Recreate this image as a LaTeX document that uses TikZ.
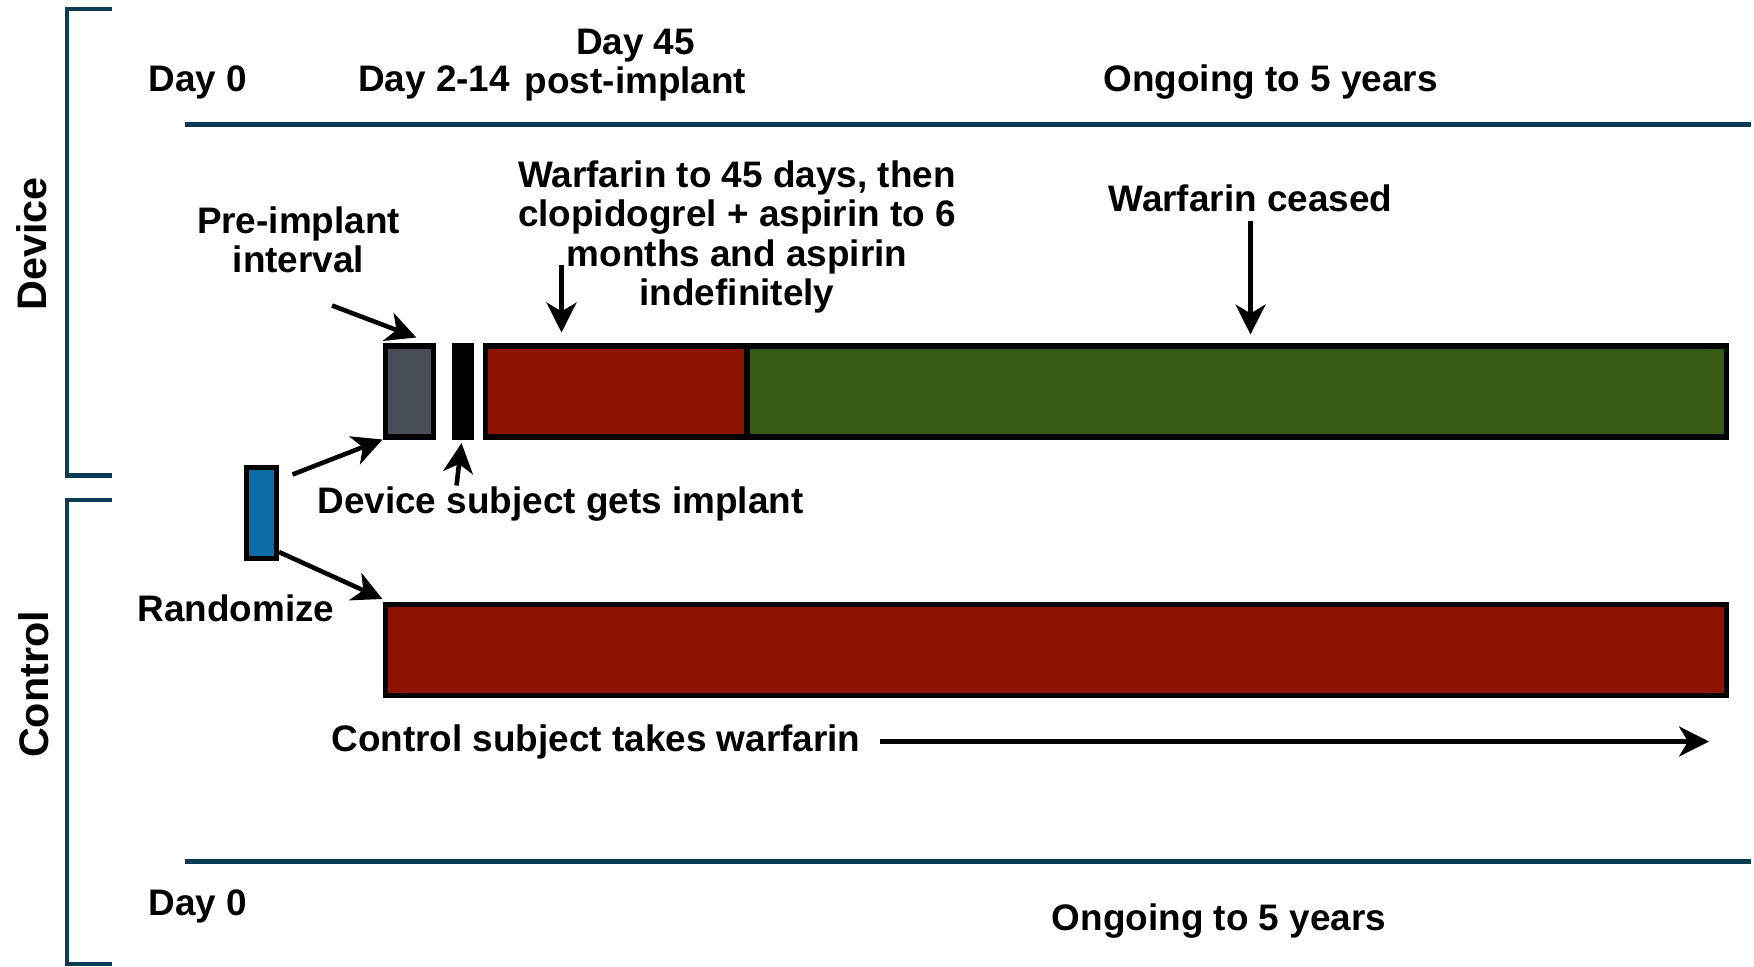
\documentclass[tikz,border=0pt]{standalone}
\usepackage{fontspec}
\setmainfont{Liberation Sans}
\usetikzlibrary{arrows.meta, positioning}
\definecolor{navy}{RGB}{10,60,85}
\definecolor{slate}{RGB}{71,78,85}
\definecolor{brick}{RGB}{140,20,0}
\definecolor{moss}{RGB}{54,90,19}
\definecolor{ocean}{RGB}{13,108,165}

\begin{document}
\begin{tikzpicture}[
        txt/.style={font=\fontsize{21}{22.3}\selectfont\bfseries, align=center, inner sep=0pt},
        side/.style={font=\fontsize{23.5}{26}\selectfont\bfseries, rotate=90, inner sep=0pt},
        bar/.style={draw=black, line width=3pt, inner sep=0pt, anchor=north west, minimum height=1.815cm},
        arr/.style={line width=2.6pt, -{Stealth[length=17pt, width=17pt, inset=5pt]}},
        rule/.style={navy, line width=2.8pt}
    ]
    \useasboundingbox (0,0) rectangle (35.08,19.33);

        % Brackets and time lines
        \foreach \t/\b in {19.15/9.82, 9.33/0.05}
            \draw[rule] (2.24,\t) -| (1.34,\b) -- (2.24,\b);
        \draw[rule] (3.69,16.84) -- (35.01,16.84);
        \draw[rule] (3.69,2.10) -- (35.01,2.10);

        \node[side] (dev) at (0.63,14.45) {Device};
        \node[side] (ctl) at (0.67,5.64) {Control};

        % Bars
        \node[bar, fill=slate, minimum width=0.965cm] (gray) at (7.65,12.46) {};
        \node[bar, fill=black, minimum width=0.335cm] (implbar) at (9.03,12.46) {};
        \node[bar, fill=brick, minimum width=5.24cm] (red) at (9.65,12.46) {};
        \node[bar, fill=moss, minimum width=19.59cm] (green) at (14.887,12.46) {};
        \node[bar, fill=ocean, minimum width=0.595cm] (randbox) at (4.88,10.03) {};
        \node[bar, fill=brick, minimum width=26.825cm] (ctrl) at (7.65,7.29) {};

        % Labels
        \node[txt] (day0) at (3.96,17.69) {Day 0};
        \node[txt] (day214) at (8.68,17.69) {Day 2-14};
        \node[txt] (day45) at (12.71,18.03) {Day 45\\post-implant};
        \node[txt] (ongoing) at (25.41,17.69) {Ongoing to 5 years};
        \node[txt] (pre) at (5.97,14.53) {Pre-implant\\interval};
        \node[txt] (warf) at (14.74,14.59) {Warfarin to 45 days, then\\clopidogrel + aspirin to 6\\months and aspirin\\indefinitely};
        \node[txt] (ceased) at (25.01,15.36) {Warfarin ceased};
        \node[txt] (randtxt) at (4.72,7.16) {Randomize};
        \node[txt] (implant) at (11.21,9.25) {Device subject gets implant};
        \node[txt] (ctrltxt) at (11.92,4.50) {Control subject takes warfarin};
        \node[txt] (day0b) at (3.96,1.20) {Day 0};
        \node[txt] (ongoingb) at (24.38,0.90) {Ongoing to 5 years};

        \coordinate (preTail) at (6.64,13.22);
        \coordinate (warfTail) at (11.23,14.03);
        \coordinate (implTail) at (9.13,9.62);
        \coordinate (ctrlEnd) at (34.18,4.54);

        % Arrows
        \draw[arr] (preTail) -- ([xshift=0.14cm, yshift=0.12cm]gray.north);
        \draw[arr, shorten >=0.22cm] (warfTail) -- (warfTail |- red.north);
        \draw[arr, shorten <=0.17cm, shorten >=0.18cm] (ceased.south) -- (ceased.south |- green.north);
        \draw[arr] ([shift={(0.27,-0.19)}]randbox.north east) -- (gray.south west);
        \draw[arr] ([yshift=0.18cm]randbox.south east) -- ([yshift=0.06cm]ctrl.north west);
        \draw[arr] (implTail) -- ([xshift=-0.02cm, yshift=-0.07cm]implbar.south);
        \draw[arr] ([xshift=0.39cm]ctrltxt.east) -- (ctrlEnd |- ctrltxt.east);
\end{tikzpicture}
\end{document}
